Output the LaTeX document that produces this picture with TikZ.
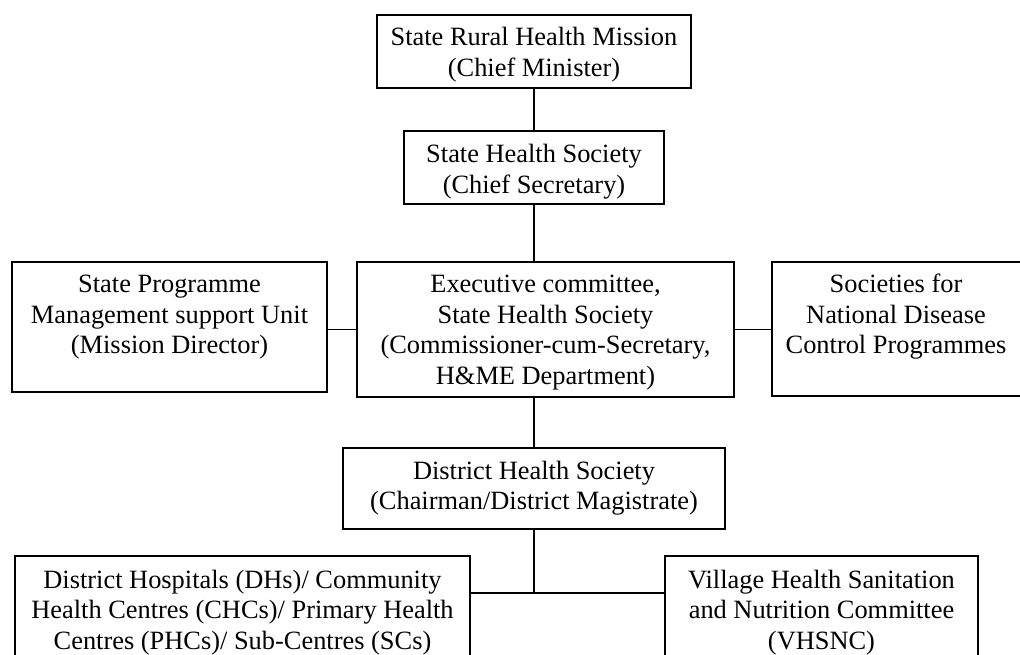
\documentclass[tikz,border=0pt]{standalone}
\usepackage{fontspec}
\setmainfont{Liberation Serif}
\begin{document}
\begin{tikzpicture}[x=1pt,y=-1pt,
  box/.style={draw=black, line width=1.1pt, inner sep=0pt},
  lbl/.style={anchor=north, align=center, inner sep=0pt, text=black, font=\fontsize{26.4}{30.5}\selectfont},
  link/.style={draw=black, line width=1.1pt}]
\useasboundingbox (0,0) rectangle (1020,655);
% boxes
\node[box, minimum width=314pt, minimum height=73pt] (srhm) at (534,51.5) {};
\node[box, minimum width=260pt, minimum height=73pt] (shs) at (534,167.5) {};
\node[box, minimum width=315pt, minimum height=130pt] (spmsu) at (169.5,327) {};
\node[box, minimum width=377pt, minimum height=135pt] (exec) at (545.5,329.5) {};
\node[box, minimum width=252pt, minimum height=134pt] (ndcp) at (898,329) {};
\node[box, minimum width=382pt, minimum height=81pt] (dhs) at (534,488.5) {};
\node[box, minimum width=455pt, minimum height=120pt] (dh) at (242.5,616) {};
\node[box, minimum width=313pt, minimum height=120pt] (vh) at (821.5,616) {};
% texts
\node[lbl] (tsrhm) at (534,24.2) {\strut State Rural Health Mission\\(Chief Minister)};
\node[lbl] (tshs) at (534,141.2) {\strut State Health Society\\(Chief Secretary)};
\node[lbl] (tspmsu) at (169.5,271.2) {\strut State Programme\\Management support Unit\\(Mission Director)};
\node[lbl] (texec) at (545.5,271.2) {\strut Executive committee,\\State Health Society\\(Commissioner-cum-Secretary,\\H\&ME Department)};
\node[lbl] (tndcp) at (896,271.2) {\strut Societies for\\National Disease\\Control Programmes};
\node[lbl] (tdhs) at (534,457.7) {\strut District Health Society\\(Chairman/District Magistrate)};
\node[lbl] (tdh) at (242.5,566.7) {\strut District Hospitals (DHs)/ Community\\Health Centres (CHCs)/ Primary Health\\Centres (PHCs)/ Sub-Centres (SCs)};
\node[lbl] (tvh) at (821.5,566.7) {\strut Village Health Sanitation\\and Nutrition Committee\\(VHSNC)};
% connectors
\coordinate (j) at (534,593);
\draw[link] (srhm.south) -- (shs.north);
\draw[link] (shs.south) -- (shs.south |- exec.north);
\draw[link] (exec.west) -- (exec.west -| spmsu.east);
\draw[link] (exec.east) -- (exec.east -| ndcp.west);
\draw[link] (dhs.north) -- (dhs.north |- exec.south);
\draw[link] (dhs.south) -- (j);
\draw[link] (j -| dh.east) -- (j -| vh.west);
\end{tikzpicture}
\end{document}
